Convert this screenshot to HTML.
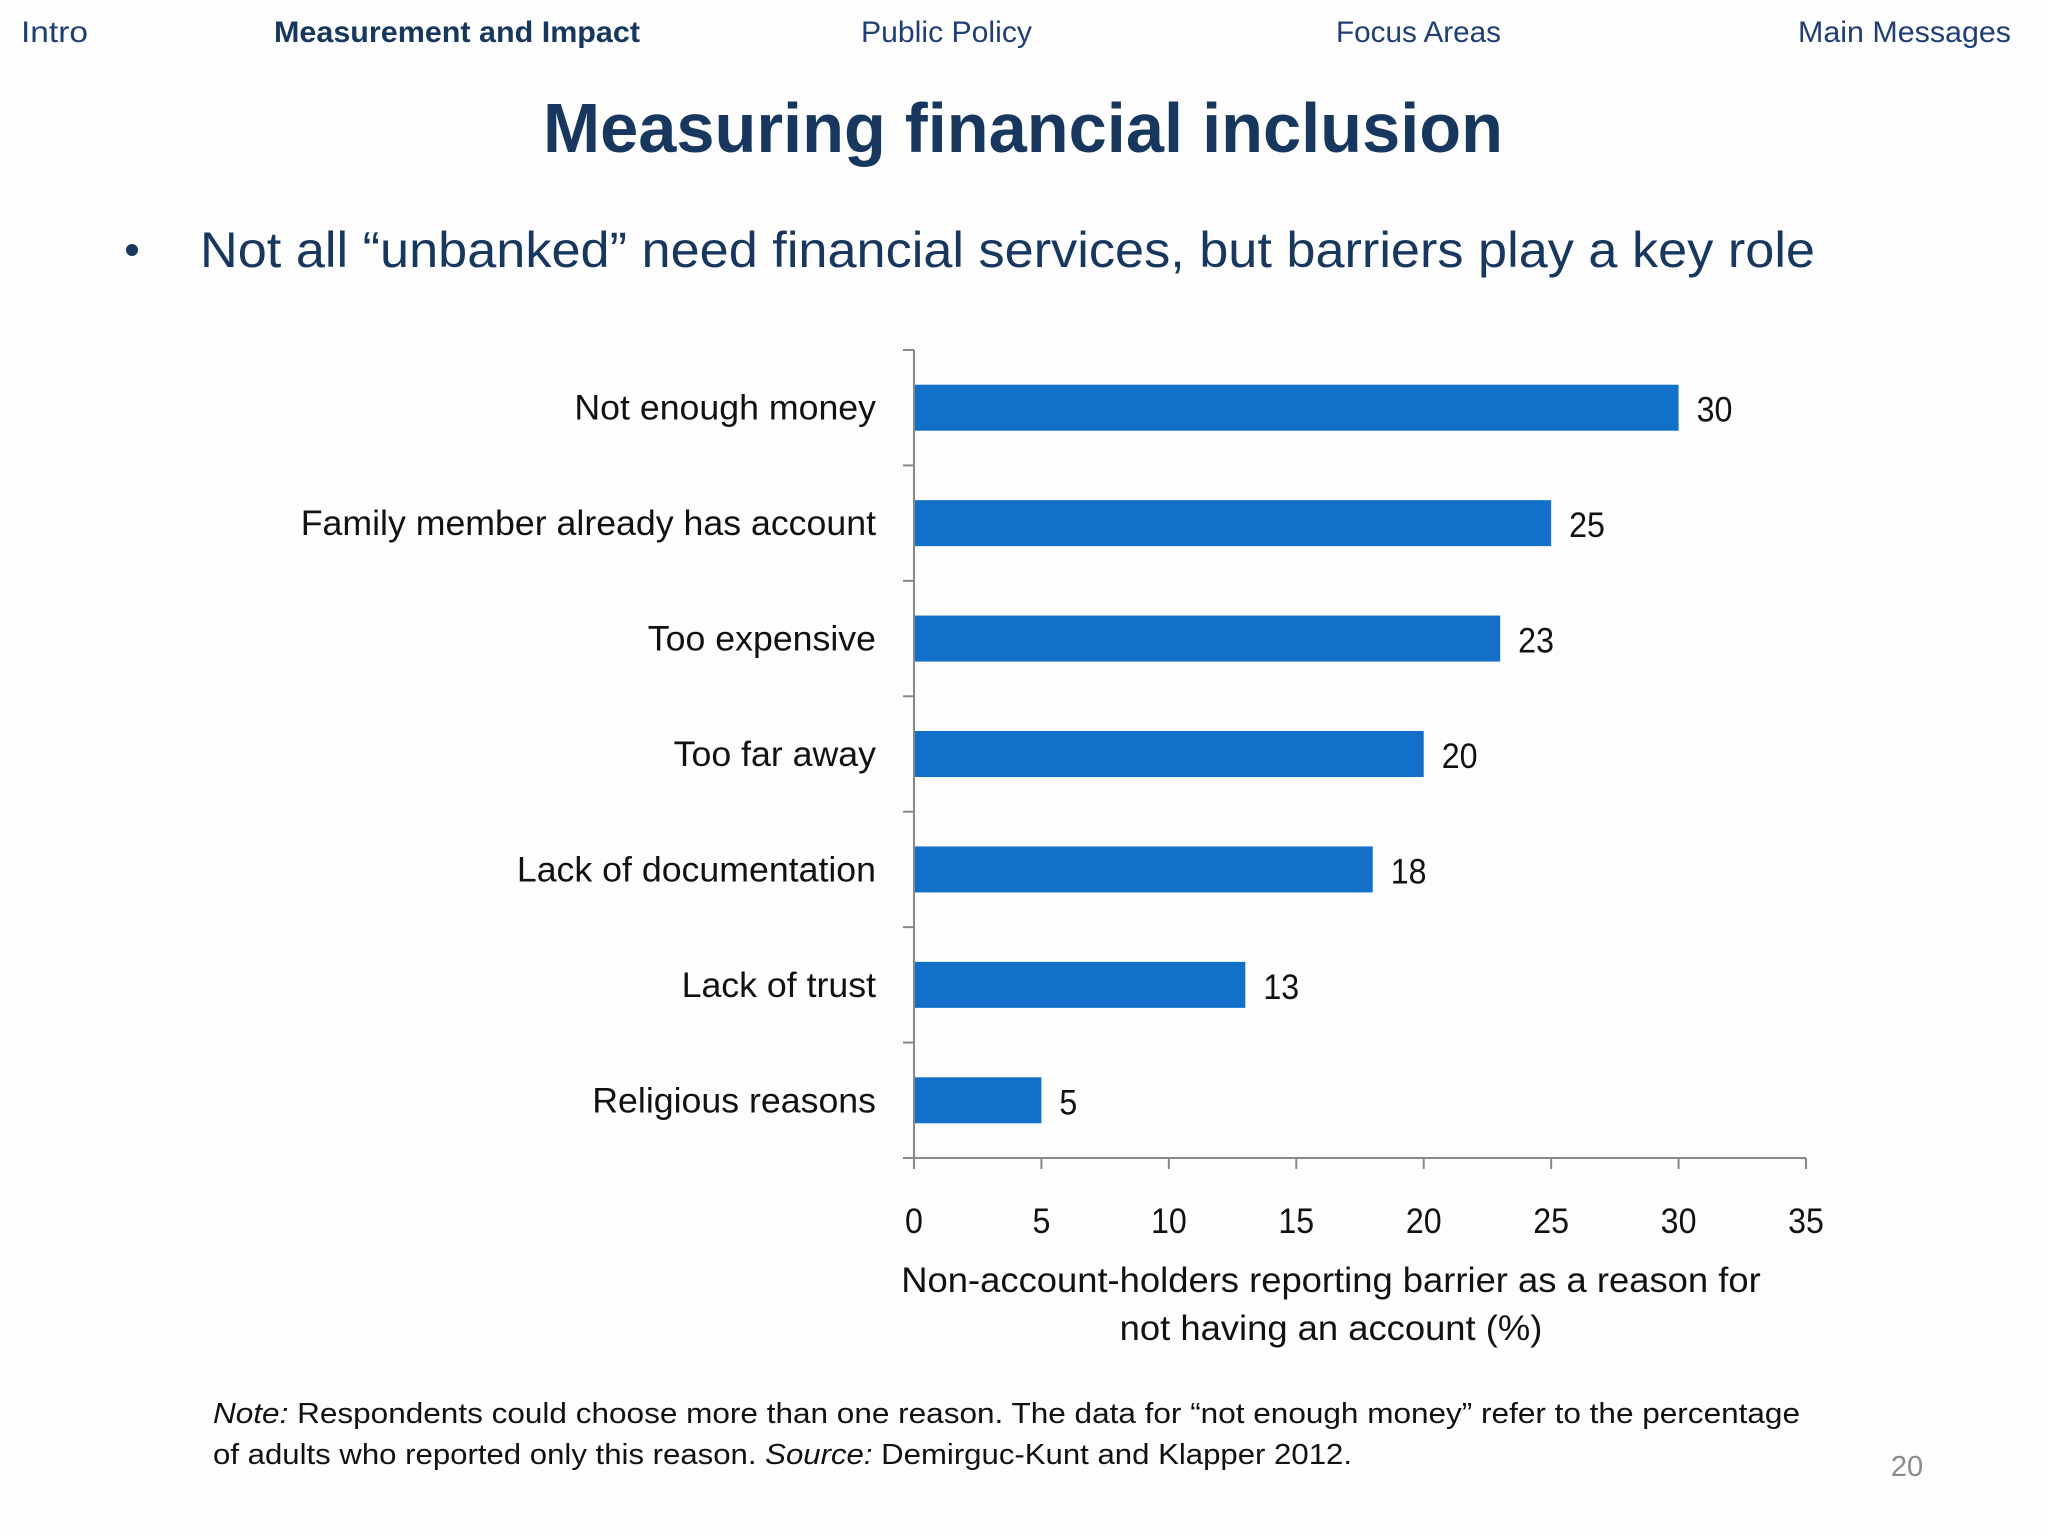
<!DOCTYPE html>
<html><head><meta charset="utf-8"><style>
html,body{margin:0;padding:0;background:#fdfdfd;}
svg{display:block;font-family:"Liberation Sans",sans-serif;}
</style></head><body>
<svg id="slide" width="2048" height="1536" viewBox="0 0 2048 1536" xmlns="http://www.w3.org/2000/svg">
<rect width="2048" height="1536" fill="#fdfdfd"/>
<g fill="#1f3f73" font-size="30">
<text x="21" y="42" textLength="67" lengthAdjust="spacingAndGlyphs">Intro</text>
<text x="274" y="42" textLength="366" lengthAdjust="spacingAndGlyphs" font-weight="bold" fill="#17375e">Measurement and Impact</text>
<text x="861" y="42" textLength="171" lengthAdjust="spacingAndGlyphs">Public Policy</text>
<text x="1336" y="42" textLength="165" lengthAdjust="spacingAndGlyphs">Focus Areas</text>
<text x="1798" y="42" textLength="213" lengthAdjust="spacingAndGlyphs">Main Messages</text>
</g>
<text x="543" y="152" font-size="70" font-weight="bold" fill="#17375e" textLength="960" lengthAdjust="spacingAndGlyphs">Measuring financial inclusion</text>
<circle cx="132" cy="250" r="6" fill="#17375e"/>
<text x="200" y="267" font-size="50" fill="#17375e" textLength="1615" lengthAdjust="spacingAndGlyphs">Not all “unbanked” need financial services, but barriers play a key role</text>
<g id="chart"></g>
<g fill="#111" font-size="29">
<text x="213" y="1423" textLength="1587" lengthAdjust="spacingAndGlyphs"><tspan font-style="italic">Note:</tspan> Respondents could choose more than one reason. The data for “not enough money” refer to the percentage</text>
<text x="213" y="1464" textLength="1139" lengthAdjust="spacingAndGlyphs">of adults who reported only this reason. <tspan font-style="italic">Source:</tspan> Demirguc-Kunt and Klapper 2012.</text>
</g>
<text x="1907" y="1476" font-size="29" fill="#8a8a8a" text-anchor="middle">20</text>
</svg>
<script>
const categories = ["Not enough money","Family member already has account","Too expensive","Too far away","Lack of documentation","Lack of trust","Religious reasons"];
const values = [30,25,23,20,18,13,5];
const xTicks = [0,5,10,15,20,25,30,35];
const axisTitle = ["Non-account-holders reporting barrier as a reason for","not having an account (%)"];

const NS="http://www.w3.org/2000/svg";
const g=document.getElementById('chart');
const X0=914, X1=1806, Y0=350, Y1=1158, XMAX=35;
const xs=v=>X0+(v/XMAX)*(X1-X0);
const band=(Y1-Y0)/categories.length;
const yc=i=>Y0+band*(i+0.5);
const barH=46;
function mk(tag,attrs,parent){const e=document.createElementNS(NS,tag);for(const k in attrs)e.setAttribute(k,attrs[k]);(parent||g).appendChild(e);return e;}
function txt(x,y,s,size,anchor,sx){const t=mk('text',{transform:`translate(${x},${y}) scale(${sx},1)`,'font-size':size,'text-anchor':anchor,fill:'#111'});t.textContent=s;return t;}

const yAxis=mk('line',{x1:X0,y1:Y0,x2:X0,y2:Y1,stroke:'#888','stroke-width':2});


const xAxis=mk('line',{x1:X0-10,y1:Y1,x2:X1,y2:Y1,stroke:'#888','stroke-width':2});


for(let i=0;i<=categories.length;i++){
  const tk=mk('line',{x1:X0-11,y1:Y0+band*i,x2:X0,y2:Y0+band*i,stroke:'#888','stroke-width':2});
  
  
}
xTicks.forEach(v=>{
  const tk=mk('line',{x1:xs(v),y1:Y1,x2:xs(v),y2:Y1+11,stroke:'#888','stroke-width':2});
  
  
  const t=txt(xs(v),1233,String(v),35,'middle',0.92);
  
  
});
categories.forEach((c,i)=>{
  const y=yc(i);
  const r=mk('rect',{x:X0+1,y:y-barH/2,width:xs(values[i])-X0-1,height:barH,fill:'#1270c8'});
  
  
  const l=txt(876,y+12,c,35,'end',1.02);
  
  
  const v=txt(xs(values[i])+18,y+14,String(values[i]),35,'start',0.92);
  
  
});
axisTitle.forEach((s,i)=>{
  const t=txt(1331,1292+i*48,s,35,'middle',1.04);
  
  
});
</script>
</body></html>
